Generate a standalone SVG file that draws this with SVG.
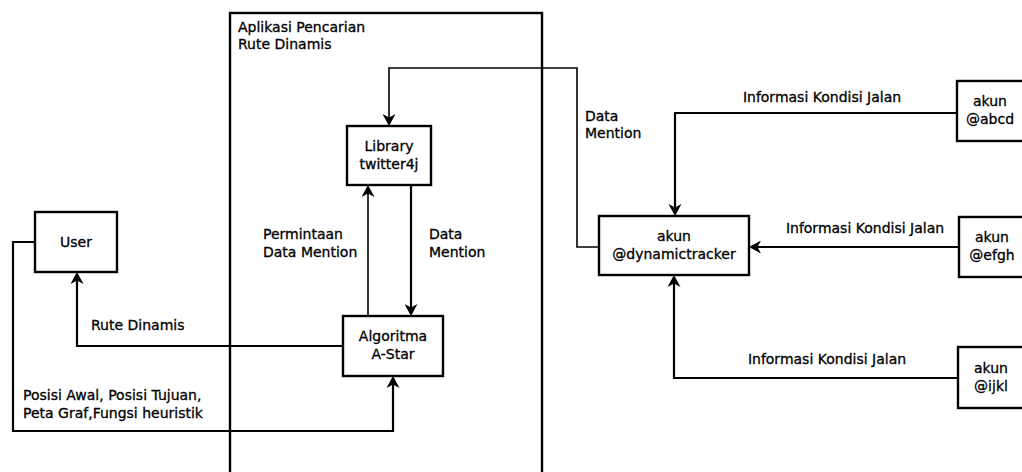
<svg xmlns="http://www.w3.org/2000/svg" width="1022" height="472" viewBox="0 0 1022 472">
  <style>
    .box { fill: #ffffff; stroke: #000000; stroke-width: 2.4; }
    .frame { fill: none; stroke: #000000; stroke-width: 2.4; }
    .conn { fill: none; stroke: #000000; stroke-width: 2.2; }
    .thin { stroke-width: 1.6; }
    text { font-family: "DejaVu Sans", "Liberation Sans", sans-serif; font-size: 14px; fill: #000000; stroke: #000000; stroke-width: 0.3; }
    .c { text-anchor: middle; }
  </style>
  <defs>
    <marker id="arr" viewBox="0 0 12 13" markerWidth="12" markerHeight="13" refX="9" refY="6.5" orient="auto" markerUnits="userSpaceOnUse">
      <path d="M0,0 L12,6.5 L0,13 L3.5,6.5 Z" fill="#000000"/>
    </marker>
  </defs>
  <rect width="1022" height="472" fill="#ffffff"/>

  <g id="app-container">
    <rect class="frame" x="230" y="13" width="312" height="480"/>
    <text x="238" y="32">Aplikasi Pencarian</text>
    <text x="238" y="49">Rute Dinamis</text>
  </g>

  <g id="connectors">
    <path class="conn thin" d="M599,247 H577 V68 H389 V123" marker-end="url(#arr)"/>
    <path class="conn thin" d="M368,316 V188" marker-end="url(#arr)"/>
    <path class="conn" d="M411,185 V313" marker-end="url(#arr)"/>
    <path class="conn" d="M343,346 H77 V275" marker-end="url(#arr)"/>
    <path class="conn" d="M35,242 H13 V431 H393 V379" marker-end="url(#arr)"/>
    <path class="conn" d="M957,113 H675 V213" marker-end="url(#arr)"/>
    <path class="conn" d="M959,247 H752" marker-end="url(#arr)"/>
    <path class="conn" d="M958,378 H674 V278" marker-end="url(#arr)"/>
    <text x="585" y="121">Data</text>
    <text x="585" y="138">Mention</text>
    <text x="263" y="239">Permintaan</text>
    <text x="263" y="257">Data Mention</text>
    <text x="429" y="239">Data</text>
    <text x="429" y="257">Mention</text>
    <text x="91" y="330">Rute Dinamis</text>
    <text x="23" y="400">Posisi Awal, Posisi Tujuan,</text>
    <text x="23" y="418">Peta Graf,Fungsi heuristik</text>
    <text class="c" x="822" y="102">Informasi Kondisi Jalan</text>
    <text class="c" x="865" y="233">Informasi Kondisi Jalan</text>
    <text class="c" x="827" y="364">Informasi Kondisi Jalan</text>
  </g>

  <g id="user">
    <rect class="box" x="35" y="212" width="82" height="60"/>
    <text class="c" x="76" y="247">User</text>
  </g>

  <g id="library">
    <rect class="box" x="347" y="126" width="84" height="59"/>
    <text class="c" x="389" y="151">Library</text>
    <text class="c" x="389" y="169">twitter4j</text>
  </g>

  <g id="algoritma">
    <rect class="box" x="343" y="316" width="100" height="60"/>
    <text class="c" x="393" y="341">Algoritma</text>
    <text class="c" x="393" y="359">A-Star</text>
  </g>

  <g id="dynamictracker">
    <rect class="box" x="599" y="216" width="150" height="59"/>
    <text class="c" x="674" y="241">akun</text>
    <text class="c" x="674" y="259">@dynamictracker</text>
  </g>

  <g id="abcd">
    <rect class="box" x="957" y="81" width="68" height="60"/>
    <text class="c" x="990" y="106">akun</text>
    <text class="c" x="990" y="124">@abcd</text>
  </g>

  <g id="efgh">
    <rect class="box" x="959" y="217" width="68" height="60"/>
    <text class="c" x="992" y="242">akun</text>
    <text class="c" x="992" y="260">@efgh</text>
  </g>

  <g id="ijkl">
    <rect class="box" x="958" y="347" width="68" height="61"/>
    <text class="c" x="991" y="373">akun</text>
    <text class="c" x="991" y="391">@ijkl</text>
  </g>
</svg>
